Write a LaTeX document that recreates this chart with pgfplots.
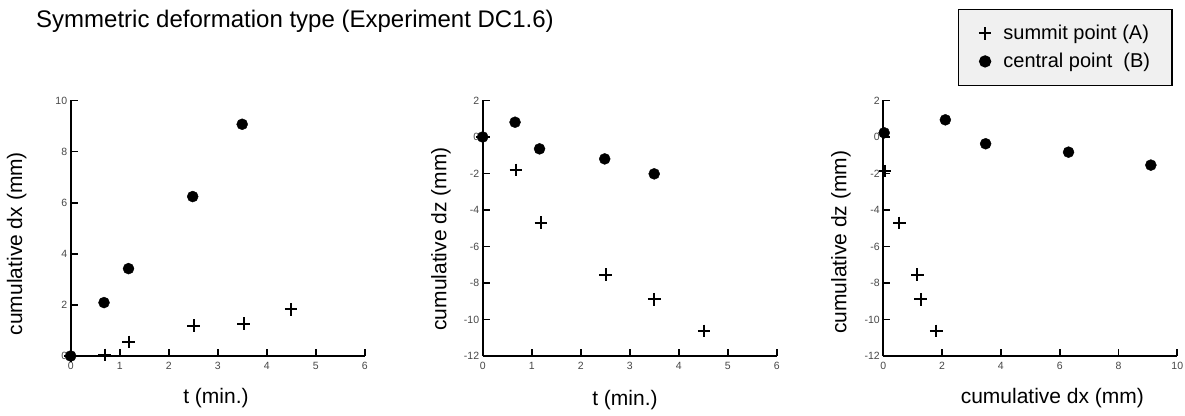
\documentclass[border=0pt]{standalone}
\usepackage{fontspec}
\setmainfont{Liberation Sans}
\usepackage{pgfplots}
\pgfplotsset{compat=1.18}

\pgfplotsset{
  myaxis/.style={
    scale only axis, width=294pt, height=255.5pt,
    anchor=south west,
    axis x line=bottom, axis y line=left,
    axis line style={-, line width=2.2pt, black},
    tick align=inside,
    major tick length=7pt,
    minor tick num=0,
    every tick/.style={line width=1.8pt, black},
    xtick style={line width=1.8pt, black},
    ytick style={line width=1.8pt, black},
    clip=false,
    /pgf/number format/assume math mode=true,
    tick label style={font=\fontsize{10.5}{12}\selectfont, text=black!72},
    xticklabel style={yshift=-3pt},
    label style={font=\fontsize{21}{24}\selectfont},
    xlabel style={anchor=center},
    ylabel style={anchor=center},
  },
  summit/.style={only marks, mark=+, mark size=6.3pt, mark options={line width=2pt, black}},
  central/.style={only marks, mark=*, mark size=5.5pt, mark options={fill=black, draw=black}},
}

\begin{document}
\begin{tikzpicture}
\path[use as bounding box] (0,0) rectangle (1185pt,415pt);

\node[anchor=base west, font=\fontsize{24}{28}\selectfont, inner sep=0pt] at (36pt,387pt) {Symmetric deformation type (Experiment DC1.6)};

% Panel 1: dx vs t
\begin{axis}[myaxis, at={(70.7pt,59pt)},
  xmin=0, xmax=6, ymin=0, ymax=10,
  xtick={0,1,...,6}, ytick={0,2,...,10},
  xlabel={t (min.)}, ylabel={cumulative dx (mm)},
  xlabel style={at={(axis description cs:0.494,-0.165)}},
  ylabel style={at={(axis description cs:-0.184,0.44)}},
]
\addplot[summit] coordinates {(0,0) (0.69,0.04) (1.18,0.55) (2.51,1.19) (3.53,1.27) (4.50,1.83)};
\addplot[central] coordinates {(0,0) (0.68,2.09) (1.18,3.42) (2.49,6.24) (3.50,9.07)};
\end{axis}

% Panel 2: dz vs t
\begin{axis}[myaxis, at={(482.7pt,59pt)},
  xmin=0, xmax=6, ymin=-12, ymax=2,
  xtick={0,1,...,6}, ytick={-12,-10,...,2},
  xlabel={t (min.)}, ylabel={cumulative dz (mm)},
  xlabel style={at={(axis description cs:0.484,-0.172)}},
  ylabel style={at={(axis description cs:-0.142,0.458)}},
]
\addplot[summit] coordinates {(0,0) (0.68,-1.80) (1.19,-4.69) (2.51,-7.54) (3.50,-8.89) (4.52,-10.62)};
\addplot[central] coordinates {(0,0) (0.66,0.81) (1.16,-0.65) (2.49,-1.20) (3.50,-2.02)};
\end{axis}

% Panel 3: dz vs dx
\begin{axis}[myaxis, at={(883.3pt,59pt)},
  xmin=0, xmax=10, ymin=-12, ymax=2,
  xtick={0,2,...,10}, ytick={-12,-10,...,2},
  xlabel={cumulative dx (mm)}, ylabel={cumulative dz (mm)},
  xlabel style={at={(axis description cs:0.575,-0.164)}},
  ylabel style={at={(axis description cs:-0.144,0.445)}},
  legend style={at={(0.2546,1.359)}, anchor=north west,
    draw=black, line width=1.3pt, fill=black!6,
    inner xsep=20pt, inner ysep=14pt,
    font=\fontsize{20}{24}\selectfont,
    row sep=8pt, column sep=10pt},
  legend cell align=left,
  legend image code/.code={\draw[mark repeat=2,mark phase=2,#1] plot coordinates {(0pt,0pt) (6pt,0pt) (12pt,0pt)};},
]
\addplot[summit] coordinates {(0.06,-1.87) (0.55,-4.71) (1.16,-7.54) (1.27,-8.89) (1.80,-10.62)};
\addlegendentry{summit point (A)}
\addplot[central] coordinates {(0.03,0.23) (2.11,0.94) (3.48,-0.37) (6.30,-0.83) (9.10,-1.54)};
\addlegendentry{central point\ \ (B)}
\end{axis}
\end{tikzpicture}
\end{document}
